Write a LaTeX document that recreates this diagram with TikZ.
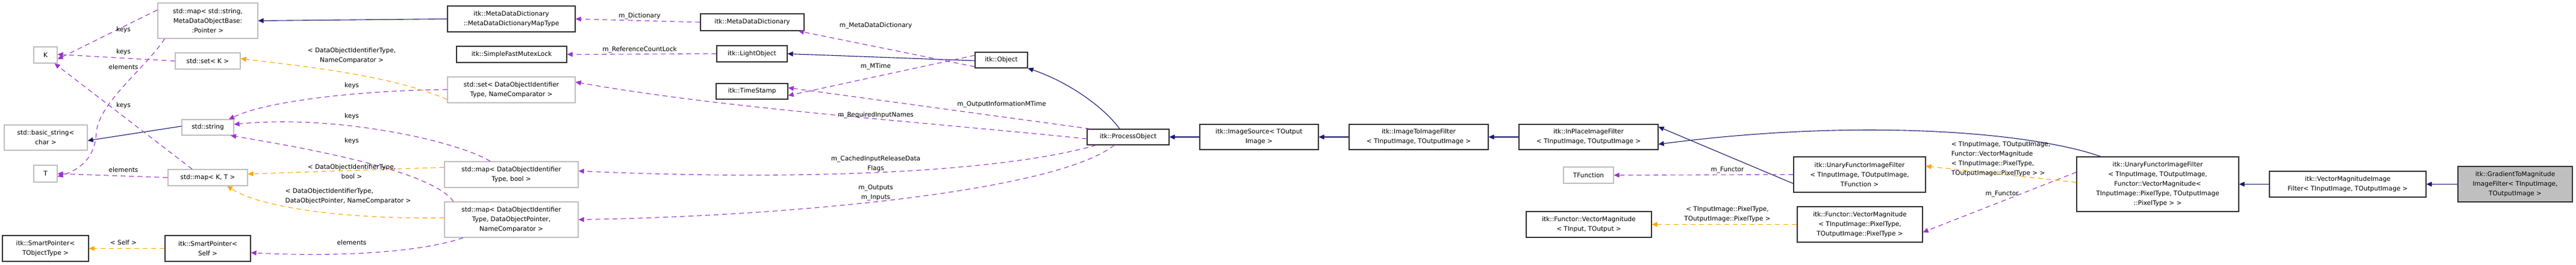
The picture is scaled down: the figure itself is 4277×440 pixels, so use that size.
\documentclass[tikz,border=0pt]{standalone}
\usepackage{fontspec}
\setmainfont{DejaVu Sans}
\usetikzlibrary{arrows.meta}
\definecolor{pur}{HTML}{9A32CD}
\definecolor{org}{HTML}{FFA500}
\definecolor{blu}{HTML}{191970}
\definecolor{gry}{HTML}{BFBFBF}
\tikzset{
  bb/.style={draw=black!80,line width=1.2pt,fill=white,inner sep=0pt,align=center,font=\fontsize{10.5}{16}\selectfont},
  gb/.style={bb,draw=gry},
  lb/.style={inner sep=0pt,align=center,font=\fontsize{10.5}{16}\selectfont},
  tip/.style={-{Triangle[length=9pt,width=8pt]}},
  inh/.style={tip,draw=blu,line width=1.1pt},
  use/.style={tip,draw=pur,dashed,dash pattern=on 8pt off 6pt,line width=1.1pt},
  tpl/.style={tip,draw=org,dashed,dash pattern=on 8pt off 6pt,line width=1.1pt},
}
\begin{document}
\begin{tikzpicture}[x=1pt,y=-1pt]
\useasboundingbox[fill=white] (0,0) rectangle (4277,440);
% nodes
\node[gb,minimum width=166,minimum height=59] (mapS) at (345,34.5) {std::map< std::string,\\ MetaDataObjectBase:\\ :Pointer >};
\node[gb,minimum width=39,minimum height=27] (K) at (75.5,91.5) {K};
\node[gb,minimum width=108,minimum height=27] (setK) at (345,101.5) {std::set< K >};
\node[gb,minimum width=138,minimum height=42] (bstr) at (76,229) {std::basic\_string<\\ char >};
\node[gb,minimum width=86,minimum height=26] (str) at (345,212) {std::string};
\node[gb,minimum width=39,minimum height=28] (T) at (75.5,289) {T};
\node[gb,minimum width=132,minimum height=27] (mapKT) at (345,295.5) {std::map< K, T >};
\node[bb,minimum width=143,minimum height=43] (spT) at (75.5,413.5) {itk::SmartPointer<\\ TObjectType >};
\node[bb,minimum width=142,minimum height=43] (spS) at (345,413.5) {itk::SmartPointer<\\ Self >};
\node[bb,minimum width=212,minimum height=43] (mapT) at (849,31.5) {itk::MetaDataDictionary\\ ::MetaDataDictionaryMapType};
\node[bb,minimum width=172,minimum height=28] (mdd) at (1249,37) {itk::MetaDataDictionary};
\node[bb,minimum width=183,minimum height=27] (sfml) at (849.5,90.5) {itk::SimpleFastMutexLock};
\node[bb,minimum width=117,minimum height=27] (lo) at (1248.5,89.5) {itk::LightObject};
\node[gb,minimum width=212,minimum height=43] (setD) at (849,149.5) {std::set< DataObjectIdentifier\\ Type, NameComparator >};
\node[bb,minimum width=119,minimum height=26] (ts) at (1248.5,152) {itk::TimeStamp};
\node[gb,minimum width=222,minimum height=43] (mapB) at (849,290.5) {std::map< DataObjectIdentifier\\ Type, bool >};
\node[gb,minimum width=222,minimum height=59] (mapP) at (849,365.5) {std::map< DataObjectIdentifier\\ Type, DataObjectPointer,\\ NameComparator >};
\node[bb,minimum width=87,minimum height=26] (obj) at (1662.5,100) {itk::Object};
\node[bb,minimum width=136,minimum height=26] (po) at (1873,228) {itk::ProcessObject};
\node[bb,minimum width=197,minimum height=42] (isrc) at (2090.5,228) {itk::ImageSource< TOutput\\ Image >};
\node[bb,minimum width=231,minimum height=42] (i2i) at (2355.5,228) {itk::ImageToImageFilter\\ < TInputImage, TOutputImage >};
\node[bb,minimum width=231,minimum height=42] (ipf) at (2637.5,228) {itk::InPlaceImageFilter\\ < TInputImage, TOutputImage >};
\node[gb,minimum width=83,minimum height=27] (tf) at (2637.5,291.5) {TFunction};
\node[bb,minimum width=208,minimum height=43] (fvm) at (2638,373.5) {itk::Functor::VectorMagnitude\\ < TInput, TOutput >};
\node[bb,minimum width=219,minimum height=59] (ufT) at (3087.5,290.5) {itk::UnaryFunctorImageFilter\\ < TInputImage, TOutputImage,\\ TFunction >};
\node[bb,minimum width=208,minimum height=59] (fvmP) at (3088,373.5) {itk::Functor::VectorMagnitude\\ < TInputImage::PixelType,\\ TOutputImage::PixelType >};
\node[bb,minimum width=269,minimum height=91] (uf) at (3582.5,306.5) {itk::UnaryFunctorImageFilter\\ < TInputImage, TOutputImage,\\ Functor::VectorMagnitude<\\ TInputImage::PixelType, TOutputImage\\ ::PixelType > >};
\node[bb,minimum width=260,minimum height=43] (vmif) at (3898,306.5) {itk::VectorMagnitudeImage\\ Filter< TInputImage, TOutputImage >};
\node[bb,fill=gry,minimum width=190,minimum height=59] (grad) at (4176,306.5) {itk::GradientToMagnitude\\ ImageFilter< TInputImage,\\ TOutputImage >};
% inheritance
\draw[inh] (mapT.west) -- (mapS.east);
\draw[inh] ([yshift=-1]obj.west) -- (lo.east);
\draw[inh] ([xshift=-14]po.north) .. controls (1830,175) and (1770,135) .. (obj.south east);
\draw[inh] (isrc.west) -- (po.east);
\draw[inh] (i2i.west) -- (isrc.east);
\draw[inh] (ipf.west) -- (i2i.east);
\draw[inh] ([yshift=-15]ufT.west) -- ([yshift=17]ipf.east);
\draw[inh] ([xshift=-95]uf.north) .. controls (3380,222) and (3100,195) .. ([yshift=-12]ipf.east);
\draw[inh] (vmif.west) -- (uf.east);
\draw[inh] (grad.west) -- (vmif.east);
\draw[inh] ([yshift=2]str.west) -- ([yshift=-5]bstr.east);
% usage
\draw[use] ([yshift=18]mapS.west) -- ([yshift=-7]K.east);
\draw[use] (setK.west) -- ([yshift=1]K.east);
\draw[use] ([xshift=-26]mapKT.north) -- ([xshift=15]K.south);
\draw[use] ([xshift=12]mapS.south west) .. controls (240,115) and (165,170) .. (160,220) .. controls (158,265) and (130,283) .. ([yshift=-5]T.east);
\draw[use] (mapKT.west) -- (T.east);
\draw[use] ([yshift=0.5]setD.west) .. controls (620,150) and (450,165) .. ([xshift=35]str.north);
\draw[use] ([xshift=-35]mapB.north) .. controls (760,235) and (560,190) .. ([yshift=5]str.east);
\draw[use] ([xshift=-96]mapP.north) .. controls (720,290) and (560,255) .. ([xshift=38]str.south);
\draw[use] ([xshift=-80]mapP.south) .. controls (700,420) and (560,428) .. ([yshift=-7]spS.east);
\draw[use] (mdd.west) -- (mapT.east);
\draw[use] (lo.west) -- (sfml.east);
\draw[use] ([yshift=-11]obj.west) -- ([xshift=-10]mdd.south east);
\draw[use] ([yshift=8]obj.west) -- ([yshift=-7]ts.east);
\draw[use] ([xshift=-63]po.north) -- ([yshift=6]ts.east);
\draw[use] ([yshift=-3]po.west) .. controls (1500,200) and (1200,180) .. ([yshift=13]setD.east);
\draw[use] ([xshift=-53]po.south) .. controls (1650,290) and (1300,300) .. ([yshift=6]mapB.east);
\draw[use] ([xshift=-23]po.south) .. controls (1750,320) and (1300,360) .. (mapP.east);
\draw[use] (ufT.west) -- (tf.east);
\draw[use] ([yshift=20]uf.west) -- ([yshift=-13]fvmP.east);
% templates
\draw[tpl] ([yshift=-16]setD.west) .. controls (650,125) and (500,110) .. ([yshift=4]setK.east);
\draw[tpl] ([yshift=12]mapB.west) -- ([yshift=6]mapKT.east);
\draw[tpl] ([yshift=3]mapP.west) .. controls (600,365) and (440,350) .. ([xshift=32]mapKT.south);
\draw[tpl] (spS.west) -- (spT.east);
\draw[tpl] (fvmP.west) -- (fvm.east);
\draw[tpl] ([yshift=3]uf.west) -- ([yshift=14]ufT.east);
% labels
\node[lb] (l1) at (205,50) {keys};
\node[lb] (l2) at (205,87) {keys};
\node[lb] (l3) at (205,112) {elements};
\node[lb] (l4) at (205,176) {keys};
\node[lb] (l5) at (205,283) {elements};
\node[lb] (l6) at (205,404) {< Self >};
\node[lb] (l7) at (584,93) {< DataObjectIdentifierType,\\ NameComparator >};
\node[lb] (l8) at (584,143) {keys};
\node[lb] (l9) at (584,194) {keys};
\node[lb] (l10) at (584,235) {keys};
\node[lb] (l11) at (584,286) {< DataObjectIdentifierType,\\ bool >};
\node[lb,align=left] (l12) at (578,327) {< DataObjectIdentifierType,\\DataObjectPointer, NameComparator >};
\node[lb] (l13) at (584,404) {elements};
\node[lb] (l14) at (1062,27) {m\_Dictionary};
\node[lb] (l15) at (1062,83) {m\_ReferenceCountLock};
\node[lb] (l16) at (1454,43) {m\_MetaDataDictionary};
\node[lb] (l17) at (1454,111) {m\_MTime};
\node[lb] (l18) at (1663,174) {m\_OutputInformationMTime};
\node[lb] (l19) at (1454,192) {m\_RequiredInputNames};
\node[lb] (l20) at (1454,273) {m\_CachedInputReleaseData\\ Flags};
\node[lb] (l21) at (1454,321) {m\_Outputs\\ m\_Inputs};
\node[lb] (l22) at (2868,283) {m\_Functor};
\node[lb] (l23) at (2868,357) {< TInputImage::PixelType,\\ TOutputImage::PixelType >};
\node[lb,align=left] (l24) at (3322,265) {< TInputImage, TOutputImage,\\Functor::VectorMagnitude\\< TInputImage::PixelType,\\ TOutputImage::PixelType > >};
\node[lb] (l25) at (3324,323) {m\_Functor};
\end{tikzpicture}
\end{document}
